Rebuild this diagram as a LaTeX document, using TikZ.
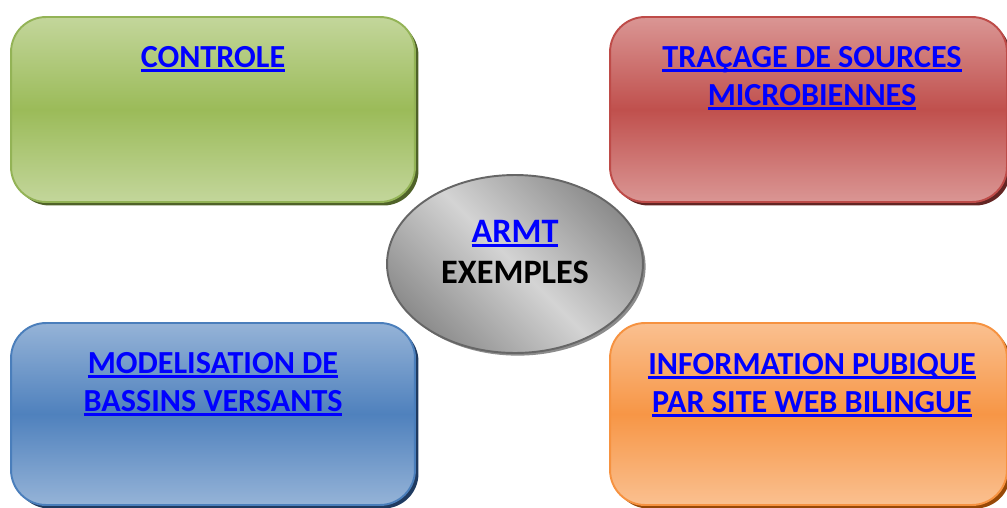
\documentclass[tikz,border=0pt]{standalone}
\usepackage{fontspec}
\setmainfont{Carlito}
\usetikzlibrary{shapes.geometric,shadows}
\definecolor{lien}{RGB}{0,0,255}
\definecolor{vert}{HTML}{9BBB59}
\definecolor{vertclair}{HTML}{C3D69B}
\definecolor{vertbord}{HTML}{93B356}
\definecolor{vertombre}{HTML}{4F6228}
\definecolor{rouge}{HTML}{C0504D}
\definecolor{rougeclair}{HTML}{DA9694}
\definecolor{rougebord}{HTML}{BE4B48}
\definecolor{rougeombre}{HTML}{632523}
\definecolor{bleu}{HTML}{4F81BD}
\definecolor{bleuclair}{HTML}{95B3D7}
\definecolor{bleubord}{HTML}{4A7EBB}
\definecolor{bleuombre}{HTML}{1F3A60}
\definecolor{orange}{HTML}{F79646}
\definecolor{orangeclair}{HTML}{FAC090}
\definecolor{orangebord}{HTML}{F69240}
\definecolor{orangeombre}{HTML}{974806}
\newcommand\lien[1]{\setbox0\hbox{#1}\rlap{\rule[-2.6pt]{\wd0}{1.5pt}}\box0}
\begin{document}
\begin{tikzpicture}[x=0.02cm, y=-0.02cm,
    boite/.style={rectangle, rounded corners=0.7cm, line width=1.1pt, minimum height=3.7cm, inner sep=0pt},
    titre/.style={font=\bfseries\fontsize{18.3}{21.6}\selectfont, text=lien, align=center, inner sep=0pt}]
    \useasboundingbox (0,0) rectangle (1007,507);
    % les quatre boites
    \node[boite, draw=vertbord, top color=vertclair, bottom color=vertclair, middle color=vert,
        general shadow={fill=vertombre, shadow xshift=2pt, shadow yshift=-2pt}, minimum width=8.08cm] (controle) at (213,109.5) {};
    \node[boite, draw=rougebord, top color=rougeclair, bottom color=rougeclair, middle color=rouge,
        general shadow={fill=rougeombre, shadow xshift=2pt, shadow yshift=-2pt}, minimum width=7.94cm] (tracage) at (808.5,109.5) {};
    \node[boite, draw=bleubord, top color=bleuclair, bottom color=bleuclair, middle color=bleu,
        general shadow={fill=bleuombre, shadow xshift=2pt, shadow yshift=-2pt}, minimum width=8.08cm, minimum height=3.64cm] (modelisation) at (213,414) {};
    \node[boite, draw=orangebord, top color=orangeclair, bottom color=orangeclair, middle color=orange,
        general shadow={fill=orangeombre, shadow xshift=2pt, shadow yshift=-2pt}, minimum width=7.94cm, minimum height=3.64cm] (information) at (808.5,414) {};
    % l'ellipse du centre
    \node[ellipse, draw=black!60, line width=1.1pt, minimum width=5.12cm, minimum height=3.56cm, inner sep=0pt,
        left color=black!45, right color=black!45, middle color=black!17, shading angle=135,
        general shadow={fill=black!45, shadow xshift=1.5pt, shadow yshift=-1.5pt}] (armt) at (515,264) {};
    % les textes
    \node[titre, anchor=base] (t-controle) at (213,67) {\lien{CONTROLE}};
    \node[titre, anchor=base] (t-tracage) at (812,105) {\lien{TRAÇAGE DE SOURCES}\\\lien{MICROBIENNES}};
    \node[titre, anchor=base] (t-modelisation) at (213,411) {\lien{MODELISATION DE}\\\lien{BASSINS VERSANTS}};
    \node[titre, anchor=base] (t-information) at (812,412) {\lien{INFORMATION PUBIQUE}\\\lien{PAR SITE WEB BILINGUE}};
    \node[titre, anchor=base, font=\bfseries\fontsize{19.5}{23.3}\selectfont] (t-armt) at (515,283) {\lien{ARMT}\\\textcolor{black}{EXEMPLES}};
\end{tikzpicture}
\end{document}
